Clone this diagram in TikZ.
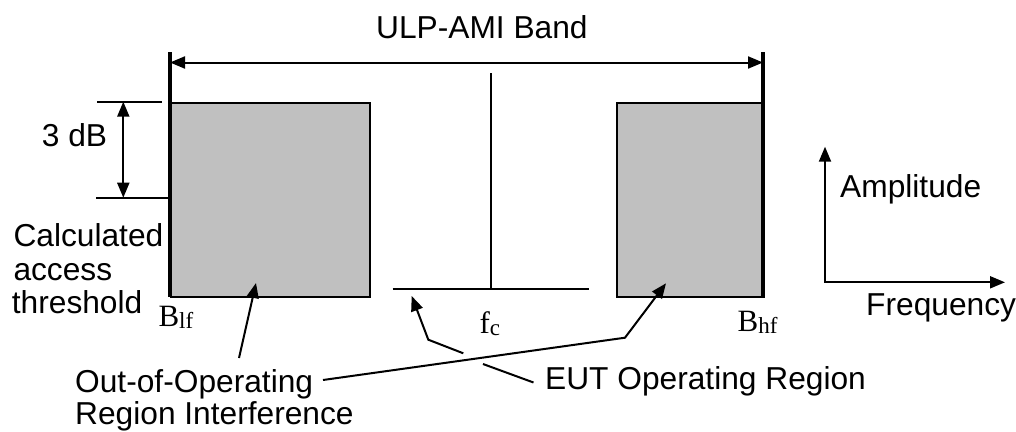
\documentclass[tikz,border=0pt]{standalone}
\usepackage{fontspec}
\setmainfont{Liberation Sans}
\newfontfamily\serifrm{Liberation Serif}
\usetikzlibrary{arrows.meta}
\definecolor{boxgray}{HTML}{C0C0C0}
\begin{document}
\begin{tikzpicture}[x=1pt,y=-1pt,
  lbl/.style={inner sep=0pt, anchor=base west, font=\fontsize{31.7}{38}\selectfont},
  sym/.style={inner sep=0pt, anchor=base west, font=\serifrm\fontsize{31}{34}\selectfont},
  ln/.style={line width=2pt},
  tipa/.style={line width=2pt, -{Triangle[length=15pt,width=12pt]}},
  tipb/.style={line width=2pt, {Triangle[length=15pt,width=12pt]}-{Triangle[length=15pt,width=12pt]}},
  band/.style={fill=boxgray, draw=black, line width=2pt, inner sep=0pt, anchor=north west}]
\useasboundingbox (0,0) rectangle (1016,431);
\newcommand{\subtxt}[1]{\raisebox{-2pt}{\fontsize{23}{25}\selectfont #1}}

% boxes
\node[band, minimum width=199pt, minimum height=194.3pt] (lbox) at (170,101.7) {};
\node[band, minimum width=147.3pt, minimum height=194.3pt] (rbox) at (615.7,101.7) {};

% band edges
\coordinate (bltop) at (170,52);
\coordinate (blbot) at (170,297);
\coordinate (brtop) at (763,52);
\coordinate (brbot) at (763,297);
\draw[line width=3.5pt] (bltop) -- (blbot);
\draw[line width=3.5pt] (brtop) -- (brbot);

% band arrow
\coordinate (ba1) at (170,62.5);
\coordinate (ba2) at (763,62.5);
\draw[tipb] (ba1) -- (ba2);
\node[lbl] (band) at (376,38.3) {ULP-AMI Band};

% 3 dB
\coordinate (t1a) at (97,101.7);
\coordinate (t1b) at (162,101.7);
\coordinate (t2a) at (96,197.7);
\coordinate (t2b) at (170,197.7);
\draw[ln] (t1a) -- (t1b);
\draw[ln] (t2a) -- (t2b);
\coordinate (d1) at (123.3,101.7);
\coordinate (d2) at (123.3,197.7);
\draw[tipb] (d1) -- (d2);
\node[lbl] (tdb) at (41.7,146) {3 dB};

\node[lbl] (calc1) at (13.3,246.7) {Calculated};
\node[lbl] (calc2) at (13.3,280) {access};
\node[lbl] (calc3) at (11.7,313.3) {threshold};

% centre
\coordinate (ctop) at (491,73.3);
\coordinate (cbot) at (491,289.3);
\draw[line width=1.3pt] (ctop) -- (cbot);
\coordinate (ea) at (392.7,289.3);
\coordinate (eb) at (589.3,289.3);
\draw[ln] (ea) -- (eb);

% symbols
\node[sym] (blf) at (158.3,326) {B\subtxt{lf}};
\node[sym] (bhf) at (737.5,331.7) {B\subtxt{hf}};
\node[sym] (fc) at (479.3,333.3) {f\subtxt{c}};

% axes
\coordinate (ay) at (825,146.7);
\coordinate (ao) at (825,282.3);
\coordinate (ax) at (1005,282.3);
\draw[tipb] (ay) -- (ao) -- (ax);
\node[lbl] (amp) at (840,197.3) {Amplitude};
\node[lbl] (freq) at (866,315) {Frequency};

% bottom labels
\node[lbl] (oo1) at (75,392.5) {Out-of-Operating};
\node[lbl] (oo2) at (75,424) {Region Interference};
\node[lbl] (eut) at (545,389.3) {EUT Operating Region};

% leaders
\coordinate (l1s) at (239,358);
\coordinate (l1t) at (256,283);
\draw[tipa] (l1s) -- (l1t);
\coordinate (l2s) at (323,380);
\coordinate (l2m) at (625,337.7);
\coordinate (l2t) at (666,283.3);
\draw[tipa] (l2s) -- (l2m) -- (l2t);
\coordinate (l3s) at (463.3,353.3);
\coordinate (l3m) at (428.3,339.7);
\coordinate (l3t) at (411.7,296);
\draw[tipa] (l3s) -- (l3m) -- (l3t);
\coordinate (l4s) at (483,364);
\coordinate (l4t) at (533.5,382.5);
\draw[ln] (l4s) -- (l4t);
\end{tikzpicture}
\end{document}
